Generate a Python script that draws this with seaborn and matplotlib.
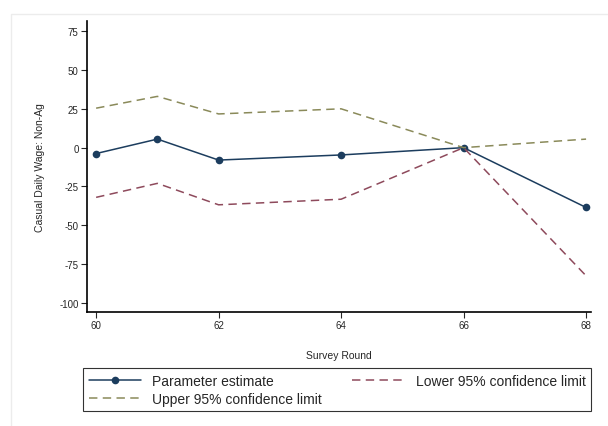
import pandas as pd
import seaborn as sns
import matplotlib.pyplot as plt
from matplotlib.patches import Rectangle

rounds = [60, 61, 62, 64, 66, 68]
estimate = [-3.8, 5.5, -8.0, -4.7, 0.0, -38.5]
lower_ci = [-32.0, -23.0, -36.8, -33.2, 0.0, -82.5]
upper_ci = [25.4, 33.0, 21.7, 25.0, 0.0, 5.5]
y_ticks = [75, 50, 25, 0, -25, -50, -75, -100]
x_ticks = [60, 62, 64, 66, 68]

sns.set_style("ticks")
plt.rcParams["font.family"] = ["Liberation Sans", "DejaVu Sans"]
plt.rcParams["axes.unicode_minus"] = False

df = pd.DataFrame({"round": rounds, "est": estimate, "lo": lower_ci, "hi": upper_ci})

fig = plt.figure(figsize=(6.08, 4.27), dpi=100)
ax = fig.add_axes([0.143, 0.267, 0.829, 0.681])

navy = "#1c3d5e"
maroon = "#8e4a5c"
olive = "#8a8a5a"

sns.lineplot(data=df, x="round", y="est", ax=ax, color=navy, lw=1.1,
             marker="o", markersize=5.5, markeredgewidth=0, label="Parameter estimate")
sns.lineplot(data=df, x="round", y="hi", ax=ax, color=olive, lw=1.1,
             label="Upper 95% confidence limit").lines[-1].set_dashes((5.5, 3.5))
sns.lineplot(data=df, x="round", y="lo", ax=ax, color=maroon, lw=1.1,
             label="Lower 95% confidence limit").lines[-1].set_dashes((5.5, 3.5))

ax.set_xlim(59.85, 68.08)
ax.set_ylim(-105.8, 81.4)
ax.set_xticks(x_ticks)
ax.set_yticks(y_ticks)
ax.tick_params(labelsize=7, length=4, width=0.8, pad=2)
ax.set_xlabel("Survey Round", fontsize=7.5, labelpad=14)
ax.set_ylabel("Casual Daily Wage: Non-Ag", fontsize=7.5, labelpad=10)
for s in ["top", "right"]:
    ax.spines[s].set_visible(False)
for s in ["left", "bottom"]:
    ax.spines[s].set_linewidth(1.2)
    ax.spines[s].set_color("black")

handles, labels = ax.get_legend_handles_labels()
ax.get_legend().remove()
leg = fig.legend(handles, labels, ncol=2, mode="expand", fontsize=10,
                 bbox_to_anchor=(0.1365, 0.030, 0.8355, 0.110),
                 bbox_transform=fig.transFigure, loc="center",
                 frameon=True, fancybox=False, handlelength=3.8,
                 borderaxespad=0, labelspacing=0.3)
leg.get_frame().set_edgecolor("black")
leg.get_frame().set_linewidth(0.8)

# faint outer frame like the original graph region
fig.patches.append(Rectangle((0.018, -0.01), 1.0, 0.975, transform=fig.transFigure,
                             fill=False, edgecolor="#ececec", lw=1.0))

fig.savefig("out.png", dpi=100)
